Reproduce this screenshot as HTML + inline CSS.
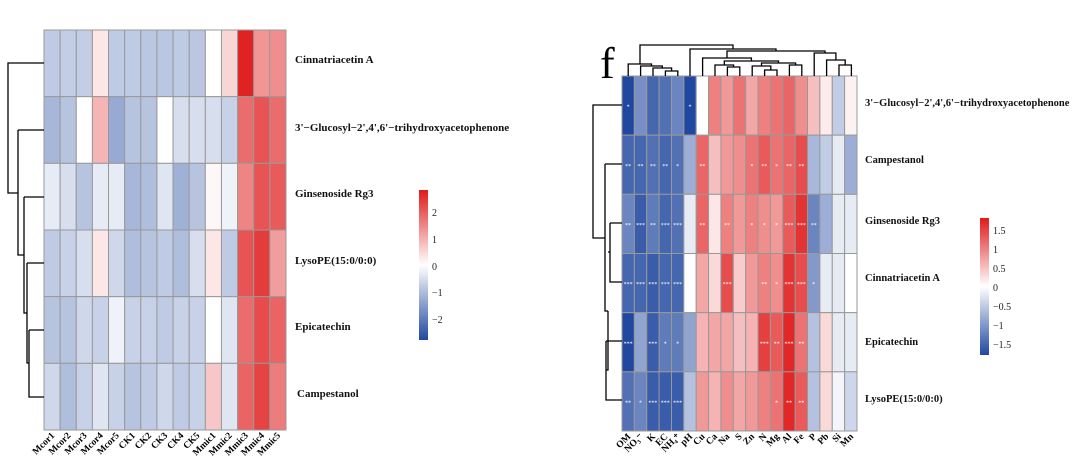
<!DOCTYPE html>
<html><head><meta charset="utf-8"><style>
html,body{margin:0;padding:0;background:#fff;width:1079px;height:465px;overflow:hidden}
svg{display:block}
text{font-family:"Liberation Serif",serif;}
</style></head><body>
<svg id="s" width="1079" height="465" xmlns="http://www.w3.org/2000/svg">
<defs>
<linearGradient id="g1" x1="0" y1="1" x2="0" y2="0">
<stop offset="0" stop-color="#2048a0"/><stop offset="0.5" stop-color="#ffffff"/><stop offset="1" stop-color="#e01a1a"/>
</linearGradient>
</defs>
<g id="L"></g><g id="R"></g>
<g stroke="#000" stroke-width="1.3" fill="none">
<path d="M44 63H8V193H18M18 130H44M18 130V255H24M24 197H44M24 197V313H27M27 263H44M27 263V363H29M29 330H44M29 330V397H44"/>
<path d="M622 105H593V238H605M605 164H622M605 164V311H608M608 252H610M610 223H622M610 223V282H622M608 311V370H606M606 341H622M606 341V400H622"/>
<!-- col dendrogram -->
<path d="M665.4 76V71H677.8V76M653 76V68H671.6V71M640.6 76V66H662.3V68M628.2 76V64H651.5V66M640 64V45H733V49"/>
<path d="M727.4 76V67H739.8V76M715 76V65H733.6V67M764.6 76V70H777V76M752.2 76V66H770.8V70M789.4 76V65H801.8V76M761.5 66V63H795.6V65M724.3 65V61H778.5V63M702.6 76V58H751.4V61"/>
<path d="M839 76V65H851.4V76M826.6 76V60H845.2V65M814.2 76V53H835.9V60M727 58V51H825V53M690 76V49H776V51"/>
</g>
<text x="600" y="78" font-size="44">f</text>
<rect x="419" y="190" width="9" height="150" fill="url(#g1)"/>
<g font-size="10" fill="#222">
<text x="432" y="216">2</text><text x="432" y="243">1</text><text x="432" y="270">0</text><text x="432" y="296">−1</text><text x="432" y="323">−2</text>
</g>
<rect x="980" y="218" width="9" height="137" fill="url(#g1)"/>
<g font-size="10" fill="#222">
<text x="993" y="234">1.5</text><text x="993" y="253">1</text><text x="993" y="272">0.5</text><text x="993" y="291">0</text><text x="993" y="310">−0.5</text><text x="993" y="329">−1</text><text x="993" y="348">−1.5</text>
</g>
<g font-size="11" font-weight="bold" fill="#111">
<text x="295" y="63">Cinnatriacetin A</text>
<text x="295" y="131">3'−Glucosyl−2',4',6'−trihydroxyacetophenone</text>
<text x="295" y="197">Ginsenoside Rg3</text>
<text x="295" y="264">LysoPE(15:0/0:0)</text>
<text x="295" y="330">Epicatechin</text>
<text x="297" y="397">Campestanol</text>
</g>
<g font-size="10.5" font-weight="bold" fill="#111">
<text x="865" y="106">3'−Glucosyl−2',4',6'−trihydroxyacetophenone</text>
<text x="865" y="163">Campestanol</text>
<text x="865" y="224">Ginsenoside Rg3</text>
<text x="865" y="281">Cinnatriacetin A</text>
<text x="865" y="345">Epicatechin</text>
<text x="865" y="402">LysoPE(15:0/0:0)</text>
</g>
</svg>
<script>
function col(v,m){var t=Math.max(-1,Math.min(1,v/m));var r,g,b;
if(t>=0){r=255+(224-255)*t;g=255+(26-255)*t;b=255+(26-255)*t;}else{t=-t;r=255+(32-255)*t;g=255+(72-255)*t;b=255+(160-255)*t;}
return 'rgb('+Math.round(r)+','+Math.round(g)+','+Math.round(b)+')';}
var NS='http://www.w3.org/2000/svg';
function el(p,n,a,txt){var e=document.createElementNS(NS,n);for(var k in a)e.setAttribute(k,a[k]);if(txt)e.textContent=txt;p.appendChild(e);return e;}
var LM=[[-0.8,-0.75,-0.75,0.3,-0.8,-0.8,-0.85,-0.85,-0.8,-0.85,0,0.5,2.7,1.3,1.4],
[-1.1,-0.9,0,0.9,-1.3,-0.9,-0.9,0,-0.5,-0.5,-0.5,-0.7,1.8,2.1,1.8],
[-0.3,-0.5,-0.9,-0.3,-0.3,-1.1,-1.0,-0.4,-1.2,-0.9,0.1,-0.2,1.5,2.1,2.0],
[-0.8,-0.7,-0.5,0.3,-0.6,-1.0,-0.9,-0.8,-1.0,-0.5,0.3,-0.8,2.1,2.4,1.2],
[-0.9,-0.9,-0.6,-0.7,-0.2,-0.7,-0.7,-0.8,-0.7,-0.7,0,-0.4,1.8,2.2,1.9],
[-0.6,-1.0,-0.7,-0.4,-0.7,-0.9,-0.8,-0.6,-0.8,-0.7,0.7,-0.4,1.9,2.3,1.6]];
var LC=['Mcor1','Mcor2','Mcor3','Mcor4','Mcor5','CK1','CK2','CK3','CK4','CK5','Mmic1','Mmic2','Mmic3','Mmic4','Mmic5'];
var L=document.getElementById('L');var x0=44,y0=30,cw=242/15,rh=400/6;
LM.forEach(function(r,i){r.forEach(function(v,j){el(L,'rect',{x:x0+j*cw,y:y0+i*rh,width:cw,height:rh,fill:col(v,2.8),stroke:'#999','stroke-width':1});});});
LC.forEach(function(c,j){var cx=x0+j*cw+cw/2+3,cy=436;el(L,'text',{x:cx,y:cy,'font-size':9.5,'font-weight':'bold','text-anchor':'end',transform:'rotate(-45 '+cx+' '+cy+')'},c);});
var RM=[[-1.8,-1.1,-1.5,-1.4,-1.2,-1.8,0,1.0,0.8,1.1,0.7,1.0,1.1,1.2,0.9,0.5,0.15,-0.5,0.1],
[-1.5,-1.5,-1.4,-1.5,-1.4,-0.8,1.2,0.5,0.8,0.9,1.1,1.3,1.1,1.2,1.4,-0.7,-0.5,-0.2,-0.8],
[-1.2,-1.6,-1.3,-1.5,-1.4,-0.2,1.2,0.2,1.0,0.8,1.0,0.9,0.8,1.3,1.6,-1.2,-0.8,-0.2,-0.2],
[-1.5,-1.5,-1.6,-1.5,-1.5,0,0.7,0.3,1.4,0.4,0.8,1.0,0.9,1.6,1.4,-1.0,-0.2,-0.2,0],
[-1.8,-0.9,-1.6,-1.3,-1.3,-0.9,0.6,0.7,0.7,0.5,0.6,1.5,1.3,1.7,1.1,-0.6,0.3,-0.2,-0.2],
[-1.4,-1.2,-1.6,-1.6,-1.6,-0.6,0.8,0.6,0.9,0.7,0.8,1.0,1.1,1.7,1.3,-0.6,0.3,-0.1,-0.4]];
var RC=['OM','NO₃⁻','K','EC','NH₄⁺','pH','Cu','Ca','Na','S','Zn','N','Mg','Al','Fe','P','Pb','Si','Mn'];
var ST=[['*','','','','','*','','','','','','','','','','','','',''],
['**','**','**','**','*','','**','','','','*','**','*','**','**','','','',''],
['**','***','**','***','***','','**','','**','','*','*','*','***','***','**','','',''],
['***','***','***','***','***','','','','***','','','**','*','***','***','*','','',''],
['***','','***','*','*','','','','','','','***','**','***','**','','','',''],
['**','*','***','***','***','','','','','','','','*','**','**','','','','']];
var R=document.getElementById('R');var X0=622,Y0=76,CW=235/19,RH=355/6;
RM.forEach(function(r,i){r.forEach(function(v,j){el(R,'rect',{x:X0+j*CW,y:Y0+i*RH,width:CW,height:RH,fill:col(v,1.8),stroke:'#999','stroke-width':1});
if(ST[i][j])el(R,'text',{x:X0+j*CW+CW/2,y:Y0+i*RH+RH/2+3,'font-size':6,fill:'#fff','text-anchor':'middle'},ST[i][j]);});});
RC.forEach(function(c,j){var cx=X0+j*CW+CW/2+3,cy=437;el(R,'text',{x:cx,y:cy,'font-size':9.5,'font-weight':'bold','text-anchor':'end',transform:'rotate(-45 '+cx+' '+cy+')'},c);});
</script>
</body></html>
